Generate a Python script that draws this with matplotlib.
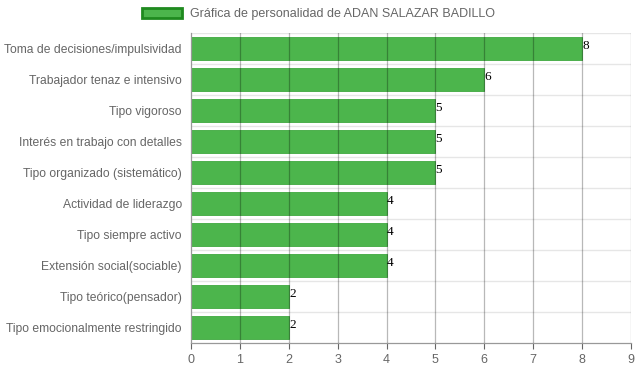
import matplotlib
matplotlib.use("Agg")
import matplotlib.pyplot as plt
from matplotlib.patches import Patch

categories = [
    "Toma de decisiones/impulsividad",
    "Trabajador tenaz e intensivo",
    "Tipo vigoroso",
    "Interés en trabajo con detalles",
    "Tipo organizado (sistemático)",
    "Actividad de liderazgo",
    "Tipo siempre activo",
    "Extensión social(sociable)",
    "Tipo teórico(pensador)",
    "Tipo emocionalmente restringido",
]
values = [8, 6, 5, 5, 5, 4, 4, 4, 2, 2]
x_ticks = list(range(0, 10))
legend_label = "Gráfica de personalidad de ADAN SALAZAR BADILLO"

W, H = 637, 371
fig = plt.figure(figsize=(W / 100, H / 100), dpi=100)
ax = fig.add_axes([191 / W, (H - 343) / H, (631 - 191) / W, (343 - 33) / H])

n = len(categories)
ypos = list(range(n))
ax.barh(ypos, values, height=0.72, color="#4CB54C", edgecolor="#3fa83f",
        linewidth=0.6, zorder=2)

for y, v in zip(ypos, values):
    ax.text(v + 0.005, y - 0.07, str(v), ha="left", va="center",
            fontsize=9.5, family="Liberation Serif", color="#000000", zorder=4)

ax.set_xlim(0, 9)
ax.set_ylim(n - 0.5, -0.5)
ax.set_xticks(x_ticks)
ax.set_xticklabels([str(t) for t in x_ticks])
ax.set_yticks(ypos)
ax.set_yticklabels(categories)

# vertical gridlines drawn over bars
for t in x_ticks[1:]:
    ax.axvline(t, color="#000000", alpha=0.28, linewidth=0.9, zorder=3)
# horizontal band boundaries
for b in range(n):
    ax.axhline(b - 0.5, color="#e6e6e6", linewidth=1.0, zorder=1)

for s in ["top", "right"]:
    ax.spines[s].set_visible(False)
ax.spines["left"].set_color("#999999")
ax.spines["bottom"].set_color("#999999")
ax.spines["left"].set_linewidth(0.9)
ax.spines["bottom"].set_linewidth(0.9)
ax.spines["left"].set_zorder(3)

ax.tick_params(axis="both", colors="#666666", length=4, width=0.8)
ax.tick_params(axis="y", length=0, pad=6.5, labelsize=8.7)
ax.tick_params(axis="x", pad=4, labelsize=9)
for lab in ax.get_xticklabels() + ax.get_yticklabels():
    lab.set_family("Liberation Sans")
    lab.set_color("#666666")

handle = Patch(facecolor="#4CB54C", edgecolor="#1f8a1f", linewidth=2)
fig.legend([handle], [legend_label], loc="center", bbox_to_anchor=(0.5, (H - 14) / H),
           frameon=False, prop={"family": "Liberation Sans", "size": 9},
           labelcolor="#666666", handlelength=3.2, handleheight=0.9, handletextpad=0.6)

fig.savefig("out.png", dpi=100)
